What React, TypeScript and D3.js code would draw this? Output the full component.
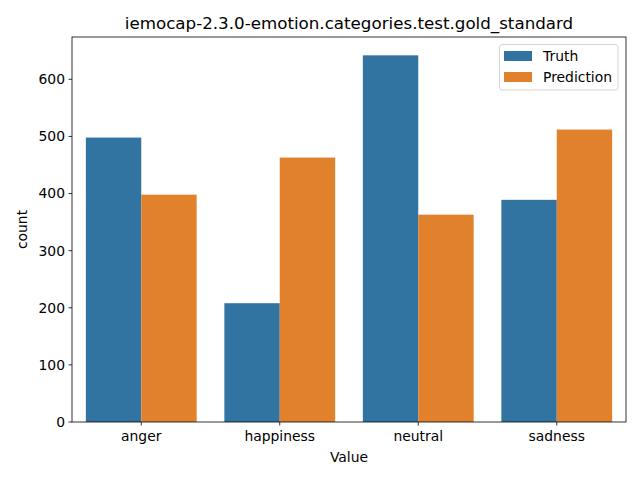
import React from "react";
import * as d3 from "d3";

const categories = ["anger", "happiness", "neutral", "sadness"];
const seriesNames = ["Truth", "Prediction"];
const truthValues = [498, 208, 642, 389];
const predictionValues = [398, 463, 363, 512];
const yTicks = [0, 100, 200, 300, 400, 500, 600];
const colors = ["#3274a1", "#e1812c"];
const title = "iemocap-2.3.0-emotion.categories.test.gold_standard";

export default function App() {
  const W = 640, H = 480;
  const left = 72, right = 626, top = 37, bottom = 422;
  const x = d3.scaleBand().domain(categories).range([left, right]).paddingInner(0).paddingOuter(0);
  const maxV = d3.max([...truthValues, ...predictionValues]) as number;
  const y = d3.scaleLinear().domain([0, maxV * 1.05]).range([bottom, top]);
  const barW = x.bandwidth() * 0.8;
  const hue = d3.scaleBand().domain(seriesNames).range([0, barW]);
  const series = [truthValues, predictionValues];
  const font = "DejaVu Sans, sans-serif";
  return (
    <svg width={W} height={H} style={{ position: "absolute", left: 0, top: 0, background: "#fff" }} fontFamily={font}>
      <rect x={0} y={0} width={W} height={H} fill="#fff" />
      {series.map((vals, si) =>
        categories.map((c, ci) => {
          const x0 = (x(c) as number) + (x.bandwidth() - barW) / 2 + (hue(seriesNames[si]) as number);
          return (
            <rect key={`${si}-${ci}`} x={x0} y={y(vals[ci])} width={hue.bandwidth()} height={bottom - y(vals[ci])} fill={colors[si]} />
          );
        })
      )}
      {/* spines */}
      <rect x={left} y={top} width={right - left} height={bottom - top} fill="none" stroke="#000" strokeWidth={0.8} />
      {/* y ticks */}
      {yTicks.map((t) => (
        <g key={t}>
          <line x1={left - 3.5} x2={left} y1={y(t)} y2={y(t)} stroke="#000" strokeWidth={0.8} />
          <text x={left - 7} y={y(t)} dy="0.35em" textAnchor="end" fontSize={13.9} fill="#000">{t}</text>
        </g>
      ))}
      {/* x ticks */}
      {categories.map((c) => {
        const cx = (x(c) as number) + x.bandwidth() / 2;
        return (
          <g key={c}>
            <line x1={cx} x2={cx} y1={bottom} y2={bottom + 3.5} stroke="#000" strokeWidth={0.8} />
            <text x={cx} y={bottom + 19} textAnchor="middle" fontSize={13.9} fill="#000">{c}</text>
          </g>
        );
      })}
      <text x={(left + right) / 2} y={462} textAnchor="middle" fontSize={13.9} fill="#000">Value</text>
      <text transform={`translate(27,${(top + bottom) / 2}) rotate(-90)`} textAnchor="middle" fontSize={13.9} fill="#000">count</text>
      <text x={(left + right) / 2} y={29} textAnchor="middle" fontSize={16.7} fill="#000">{title}</text>
      {/* legend */}
      <g>
        <rect x={499.5} y={44.5} width={118.5} height={45.5} rx={2.5} fill="#fff" fillOpacity={0.8} stroke="#ccc" strokeWidth={0.8} />
        {seriesNames.map((s, i) => (
          <g key={s}>
            <rect x={504} y={51 + i * 21} width={28} height={10} fill={colors[i]} />
            <text x={543} y={56 + i * 21} dy="0.35em" fontSize={13.9} fill="#000">{s}</text>
          </g>
        ))}
      </g>
    </svg>
  );
}
